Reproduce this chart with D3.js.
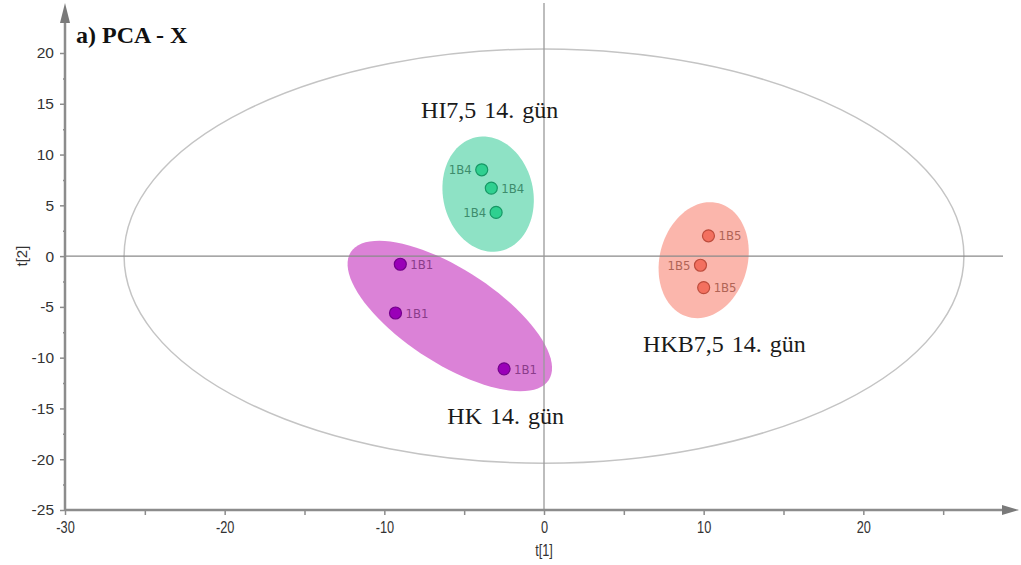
<!DOCTYPE html>
<html>
<head>
<meta charset="utf-8">
<script src="https://cdn.jsdelivr.net/npm/d3@7"></script>
<style>
  body { margin: 0; background: #fff; }
  svg text { font-family: "Liberation Sans", Arial, sans-serif; }
</style>
</head>
<body>
<svg id="chart" width="1021" height="565"></svg>
<script>
// scores
const groups = ["HK 14. gün", "HI7,5 14. gün", "HKB7,5 14. gün"]
const pointLabels = ["1B1", "1B4", "1B5"]
const t1HK = [-9.0, -9.3, -2.5]
const t2HK = [-0.8, -5.6, -11.1]
const t1HI = [-3.9, -3.3, -3.0]
const t2HI = [8.5, 6.7, 4.3]
const t1HKB = [10.3, 9.8, 10.0]
const t2HKB = [2.0, -0.9, -3.1]
// group ellipses: centre, then two semi-axis vectors (data units)
const ellHK = [-5.9, -5.9, 6.2, -6.3, -1.6, -3.9]
const ellHI = [-3.5, 6.1, 0.76, -5.6, 2.76, 0.92]
const ellHKB = [10.0, -0.4, -0.95, -5.6, 2.66, -1.12]
const hotelling = [0, 0, 26.3, 20.4]
const xTicks = [-30, -20, -10, 0, 10, 20]
const yTicks = [-25, -20, -15, -10, -5, 0, 5, 10, 15, 20]

const svg = d3.select("#chart")
const x = d3.scaleLinear().domain([-30, 30]).range([65, 1023])
const y = d3.scaleLinear().domain([-25, 20]).range([510, 53])
const axisCol = "#8c8c8c"

const styles = [
  {fill: "#db82d7", dot: "#9a00b8", stroke: "#74008c", text: "#8a3c8a", side: [1, 1, 1]},
  {fill: "#8ee2c5", dot: "#2fd090", stroke: "#169865", text: "#3d8c6c", side: [-1, 1, -1]},
  {fill: "#fbb6ac", dot: "#f3705f", stroke: "#bd4c3c", text: "#b06456", side: [1, -1, 1]}
]
const data = [[t1HK, t2HK], [t1HI, t2HI], [t1HKB, t2HKB]]
const ells = [ellHK, ellHI, ellHKB]

function ellPath(e) {
  let pts = d3.range(0, 361, 4).map(function(a) {
    let r = a * Math.PI / 180
    return [x(e[0] + e[2] * Math.cos(r) + e[4] * Math.sin(r)),
            y(e[1] + e[3] * Math.cos(r) + e[5] * Math.sin(r))]
  })
  return d3.line()(pts) + "Z"
}

// group ellipses
ells.forEach(function(e, i) {
  svg.append("path").attr("d", ellPath(e)).attr("fill", styles[i].fill)
})

// hotelling ellipse
svg.append("ellipse")
  .attr("cx", x(hotelling[0])).attr("cy", y(hotelling[1]))
  .attr("rx", x(hotelling[2]) - x(0)).attr("ry", y(0) - y(hotelling[3]))
  .attr("fill", "none").attr("stroke", "#c4c4c4").attr("stroke-width", 1.5)

// zero lines
svg.append("line").attr("x1", x(-30)).attr("x2", 1003).attr("y1", y(0)).attr("y2", y(0))
  .attr("stroke", "#8a8a8a").attr("stroke-width", 1.3)
svg.append("line").attr("x1", x(0)).attr("x2", x(0)).attr("y1", 3).attr("y2", y(-25))
  .attr("stroke", "#9a9a9a").attr("stroke-width", 1.3)

// axes
let xAxis = d3.axisBottom(x).tickValues(d3.range(-30, 30, 5)).tickSize(5)
  .tickFormat(function(d) { return xTicks.includes(d) ? d : "" })
let gx = svg.append("g").attr("transform", "translate(0," + y(-25) + ")").call(xAxis)
gx.select(".domain").remove()
gx.selectAll("line").attr("stroke", axisCol).attr("stroke-width", 1.5)
gx.selectAll("text").attr("fill", "#333").style("font-size", "17px")
  .attr("y", 10).attr("dy", "0.75em").attr("transform", "scale(0.75,1)")

let yAxis = d3.axisLeft(y).tickValues(d3.range(-25, 21, 2.5)).tickSize(5)
  .tickFormat(function(d) { return yTicks.includes(d) ? d : "" })
let gy = svg.append("g").attr("transform", "translate(" + x(-30) + ",0)").call(yAxis)
gy.select(".domain").remove()
gy.selectAll(".tick").filter(function(d) { return !yTicks.includes(d) })
  .select("line").attr("x2", -2)
gy.selectAll("line").attr("stroke", axisCol).attr("stroke-width", 1.5)
gy.selectAll("text").attr("fill", "#333").style("font-size", "15.5px").attr("x", -11)

// axis lines with arrows
svg.append("line").attr("x1", x(-30)).attr("x2", 1004).attr("y1", y(-25)).attr("y2", y(-25))
  .attr("stroke", axisCol).attr("stroke-width", 2.5)
svg.append("path").attr("d", "M1002," + (y(-25) - 5) + "L1019," + y(-25) + "L1002," + (y(-25) + 5) + "Z")
  .attr("fill", "#7a7a7a")
svg.append("line").attr("x1", x(-30)).attr("x2", x(-30)).attr("y1", y(-25)).attr("y2", 20)
  .attr("stroke", axisCol).attr("stroke-width", 2.5)
svg.append("path").attr("d", "M" + (x(-30) - 5) + ",23L" + x(-30) + ",3L" + (x(-30) + 5) + ",23Z")
  .attr("fill", "#7a7a7a")

svg.append("text").attr("transform", "translate(" + x(0) + ",556) scale(0.75,1)")
  .attr("text-anchor", "middle").style("font-size", "17px").attr("fill", "#333").text("t[1]")
svg.append("text").attr("transform", "translate(27," + y(0) + ") rotate(-90)")
  .attr("text-anchor", "middle").style("font-size", "15px").attr("fill", "#333").text("t[2]")

// points
data.forEach(function(g, i) {
  let st = styles[i]
  g[0].forEach(function(v, j) {
    svg.append("circle").attr("cx", x(v)).attr("cy", y(g[1][j])).attr("r", 6)
      .attr("fill", st.dot).attr("stroke", st.stroke).attr("stroke-width", 1.2)
    svg.append("text").attr("x", x(v) + st.side[j] * 10).attr("y", y(g[1][j]))
      .attr("dy", "0.36em").attr("text-anchor", st.side[j] > 0 ? "start" : "end")
      .style("font-family", "'DejaVu Sans Condensed', 'DejaVu Sans', sans-serif")
      .style("font-size", "13px").attr("fill", st.text).text(pointLabels[i])
  })
})

// group labels
const labelPos = [[-2.4, -16.5], [-3.4, 13.6], [11.3, -9.45]]
groups.forEach(function(g, i) {
  svg.append("text").attr("x", x(labelPos[i][0])).attr("y", y(labelPos[i][1]))
    .attr("text-anchor", "middle")
    .style("font-family", "'Liberation Serif', 'Times New Roman', serif")
    .style("font-size", "24px").style("word-spacing", "2px")
    .attr("fill", "#1a1a1a").text(g)
})

svg.append("text").attr("x", 76).attr("y", 43)
  .style("font-family", "'Liberation Serif', 'Times New Roman', serif")
  .style("font-weight", "bold").style("font-size", "24px").attr("fill", "#111")
  .text("a) PCA - X")
</script>
</body>
</html>
